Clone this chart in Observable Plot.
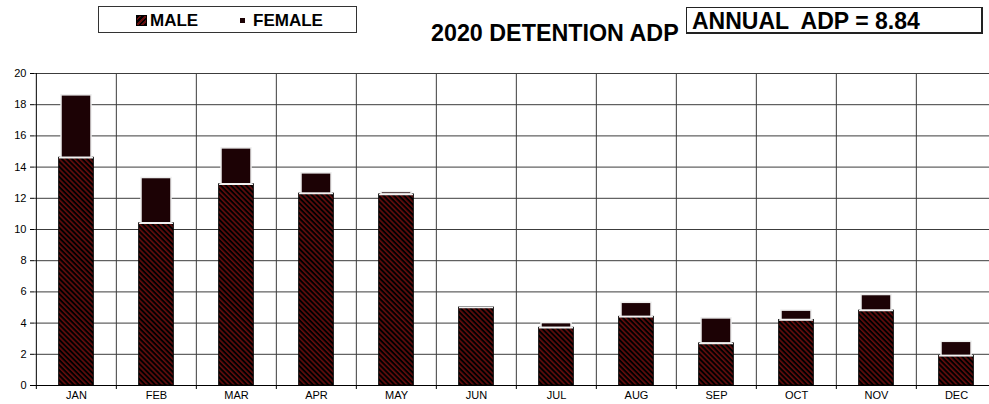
<!DOCTYPE html>
<html>
<head>
<meta charset="utf-8">
<script src="https://cdn.jsdelivr.net/npm/d3@7"></script>
<script src="https://cdn.jsdelivr.net/npm/@observablehq/plot@0.6"></script>
<style>
  body { margin: 0; background: #fff; font-family: "Liberation Sans", Arial, sans-serif; }
  #page { position: relative; width: 989px; height: 404px; overflow: hidden; }
  #header { position: relative; height: 50px; }
  .legend { position: absolute; left: 98px; top: 6px; width: 259px; height: 27px; border: 1px solid #333; box-sizing: border-box; }
  .legend .item { position: absolute; top: 4px; font-weight: bold; font-size: 17px; line-height: 19px; color: #000; }
  .swatch { position: absolute; }
  .sw-male { left: 37px; top: 8px; width: 11px; height: 11px; background: repeating-linear-gradient(-45deg, #000 0 2px, #640d0d 2px 3.6px); border: 1px solid #000; box-sizing: border-box; }
  .sw-female { left: 141px; top: 11px; width: 5px; height: 5px; background: #1c0205; }
  .title { position: absolute; left: 431px; top: 20px; font-weight: bold; font-size: 23.3px; line-height: 26px; color: #000; white-space: nowrap; }
  .annual { position: absolute; left: 686px; top: 7px; width: 297px; height: 27px; border: 1px solid #222; border-right-width: 2px; border-bottom-width: 2px; box-sizing: border-box; }
  .annual span { position: absolute; left: 5px; top: 1px; font-weight: bold; font-size: 23px; line-height: 24px; color: #000; white-space: pre; }
</style>
</head>
<body>
<div id="page">
  <div id="header">
    <div class="legend">
      <div class="swatch sw-male"></div>
      <span class="item" style="left:51px">MALE</span>
      <div class="swatch sw-female"></div>
      <span class="item" style="left:154px">FEMALE</span>
    </div>
    <div class="title">2020 DETENTION ADP</div>
    <div class="annual"><span>ANNUAL  ADP = 8.84</span></div>
  </div>
  <div id="chart"></div>
</div>
<script>
// Monthly average daily population in detention, 2020, split by sex
const months = ["JAN", "FEB", "MAR", "APR", "MAY", "JUN", "JUL", "AUG", "SEP", "OCT", "NOV", "DEC"];
const male   = [14.6, 10.4, 12.9, 12.3, 12.25, 5.0, 3.7, 4.4, 2.7, 4.2, 4.8, 1.9];
const female = [4.0, 2.9, 2.3, 1.3, 0.15, 0, 0.3, 0.9, 1.6, 0.6, 1.0, 0.9];
const yTicks = [0, 2, 4, 6, 8, 10, 12, 14, 16, 18, 20];

const rows = months.map((month, i) => ({month, male: male[i], female: female[i], total: male[i] + female[i]}));

const xRange = [34, 998];
const bw = (xRange[1] - xRange[0]) / months.length;
const grid = "#3c3c3c";

const svg = Plot.plot({
  width: 989,
  height: 354,
  marginTop: 23,
  marginBottom: 19,
  marginLeft: 34,
  marginRight: 0,
  style: {fontFamily: "'Liberation Sans', Arial, sans-serif", fontSize: "11px", color: "#000", background: "transparent", overflow: "visible"},
  x: {domain: months, range: xRange, padding: 0, label: null},
  y: {domain: [0, 20], range: [335, 23], label: null},
  marks: [
    // horizontal gridlines
    Plot.ruleY(yTicks.filter(d => d > 0), {stroke: grid, strokeWidth: 1}),
    // vertical gridlines on month boundaries
    Plot.ruleX(months.slice(1), {x: d => d, dx: -bw / 2, y1: 0, y2: 20, stroke: grid, strokeWidth: 1}),
    // y axis line
    Plot.ruleX(months.slice(0, 1), {x: d => d, dx: -bw / 2, y1: 0, y2: 20, stroke: "#000", strokeWidth: 1}),
    // x axis line
    Plot.ruleY([0], {stroke: "#000", strokeWidth: 1}),
    Plot.axisY({ticks: yTicks, tickSize: 4, tickPadding: 4, fontSize: 11, label: null}),
    Plot.axisX({tickSize: 4, tickFormat: () => "", dx: -bw / 2, label: null}),
    Plot.axisX({tickSize: 0, tickPadding: 6, fontSize: 11, label: null}),
    // male segment
    Plot.barY(rows, {x: "month", y1: 0, y2: "male", fill: "url(#maleStripe)", stroke: "#000", strokeWidth: 1, insetLeft: 22.7, insetRight: 22.7}),
    // female segment stacked on top
    Plot.barY(rows, {x: "month", y1: "male", y2: "total", fill: "#1c0205", stroke: "#eeeeee", strokeWidth: 1.5, insetLeft: 25, insetRight: 25}),
    // white edge on top of the male segment
    Plot.tickY(rows, {x: "month", y: "male", stroke: "#f2f2f2", strokeWidth: 1.5, insetLeft: 23, insetRight: 23})
  ]
});

// diagonal hatch used for the male segments
const defs = d3.select(svg).insert("defs", ":first-child");
const pat = defs.append("pattern")
  .attr("id", "maleStripe")
  .attr("patternUnits", "userSpaceOnUse")
  .attr("width", 3.6)
  .attr("height", 3.6)
  .attr("patternTransform", "rotate(-45)");
pat.append("rect").attr("width", 3.6).attr("height", 3.6).attr("fill", "#000");
pat.append("rect").attr("width", 1.6).attr("height", 3.6).attr("fill", "#640d0d");

document.getElementById("chart").appendChild(svg);
</script>
</body>
</html>
